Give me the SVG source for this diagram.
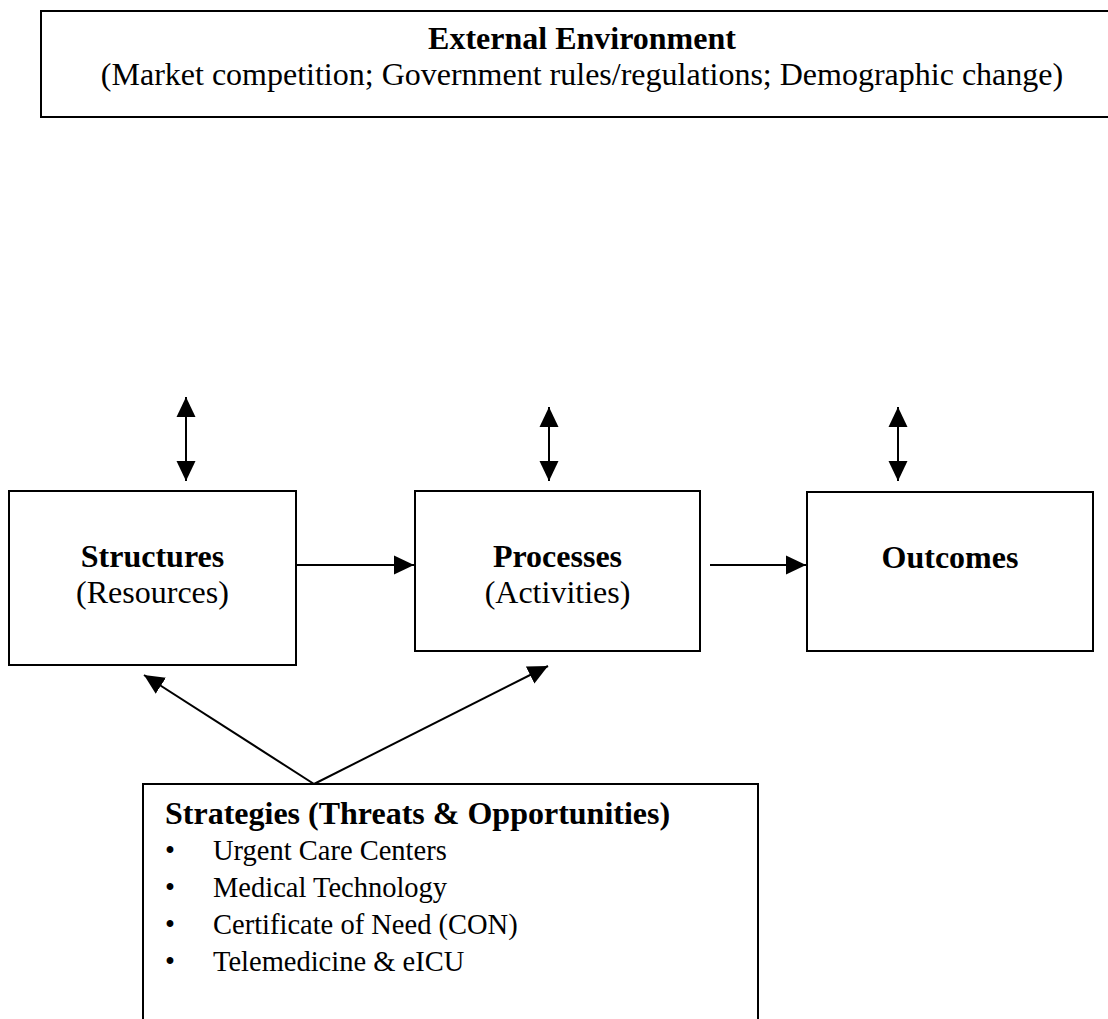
<svg xmlns="http://www.w3.org/2000/svg" width="1108" height="1019" viewBox="0 0 1108 1019">
<style>
.box{fill:#fff;stroke:#000;stroke-width:2}
.ln{fill:none;stroke:#000;stroke-width:2}
.t{font-family:"Liberation Serif","Times New Roman",serif;fill:#000}
.b{font-weight:bold}
.m{text-anchor:middle}
.big{font-size:32px}
.item{font-size:28.5px}
</style>
<defs>
<marker id="ah" markerUnits="userSpaceOnUse" markerWidth="20" markerHeight="20" refX="20" refY="10" orient="auto-start-reverse" viewBox="0 0 20 20">
<path d="M0,0.5 L20,10 L0,19.5 z" fill="#000"/>
</marker>
</defs>
<rect width="1108" height="1019" fill="#fff"/>
<g id="external">
<rect class="box" x="41" y="11" width="1090" height="106"/>
<text class="t b m big" x="582" y="49">External Environment</text>
<text class="t m big" x="582" y="85">(Market competition; Government rules/regulations; Demographic change)</text>
</g>
<g id="structures">
<rect class="box" x="9" y="491" width="287" height="174"/>
<text class="t b m big" x="152.5" y="567">Structures</text>
<text class="t m big" x="152.5" y="603">(Resources)</text>
</g>
<g id="processes">
<rect class="box" x="415" y="491" width="285" height="160"/>
<text class="t b m big" x="557.5" y="567">Processes</text>
<text class="t m big" x="557.5" y="603">(Activities)</text>
</g>
<g id="outcomes">
<rect class="box" x="807" y="492" width="286" height="159"/>
<text class="t b m big" x="950" y="568">Outcomes</text>
</g>
<g id="strategies">
<rect class="box" x="143" y="784" width="615" height="260"/>
<text class="t b big" x="165" y="824">Strategies (Threats &amp; Opportunities)</text>
<text class="t item m" x="170" y="860">•</text>
<text class="t item" x="213" y="860">Urgent Care Centers</text>
<text class="t item m" x="170" y="897">•</text>
<text class="t item" x="213" y="897">Medical Technology</text>
<text class="t item m" x="170" y="934">•</text>
<text class="t item" x="213" y="934">Certificate of Need (CON)</text>
<text class="t item m" x="170" y="971">•</text>
<text class="t item" x="213" y="971">Telemedicine &amp; eICU</text>
</g>
<g id="connectors">
<line class="ln" x1="186" y1="397" x2="186" y2="481" marker-start="url(#ah)" marker-end="url(#ah)"/>
<line class="ln" x1="549" y1="407" x2="549" y2="481" marker-start="url(#ah)" marker-end="url(#ah)"/>
<line class="ln" x1="898" y1="407" x2="898" y2="481" marker-start="url(#ah)" marker-end="url(#ah)"/>
<line class="ln" x1="296" y1="565" x2="414" y2="565" marker-end="url(#ah)"/>
<line class="ln" x1="710" y1="565" x2="806" y2="565" marker-end="url(#ah)"/>
<line class="ln" x1="314" y1="784" x2="144" y2="675" marker-end="url(#ah)"/>
<line class="ln" x1="314" y1="784" x2="548" y2="666" marker-end="url(#ah)"/>
</g>
</svg>
